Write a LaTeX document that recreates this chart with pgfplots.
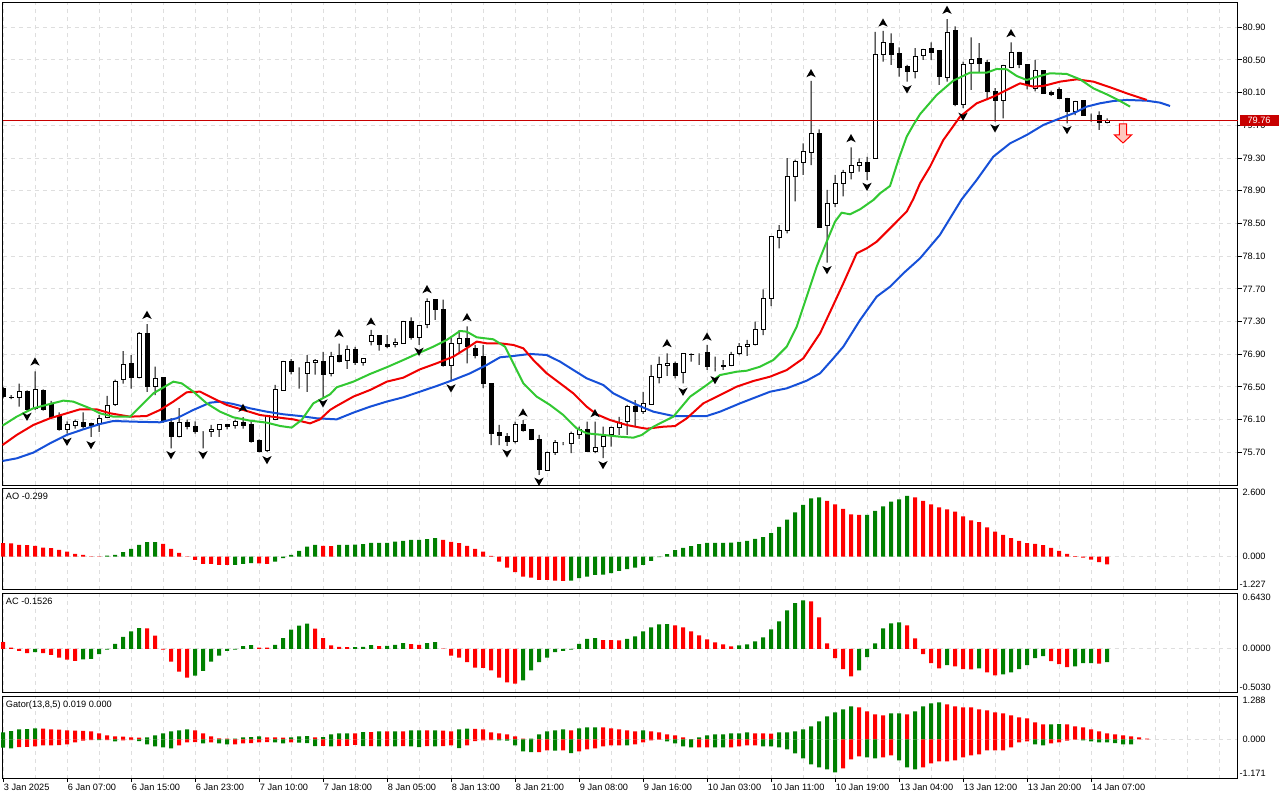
\documentclass[border=0pt]{standalone}
\usepackage{fontspec}
\setmainfont{Liberation Sans}
\usepackage{pgfplots}
\usepackage{pgfplotstable}
\pgfplotsset{compat=1.18}
\definecolor{mtgreen}{RGB}{0,128,0}
\definecolor{mtred}{RGB}{255,0,0}
\definecolor{jaw}{RGB}{22,80,216}
\definecolor{teeth}{RGB}{240,0,0}
\definecolor{lips}{RGB}{50,200,50}
\definecolor{gridc}{RGB}{222,222,222}
\definecolor{pline}{RGB}{200,0,0}
\definecolor{sellfill}{RGB}{255,200,190}
\newcommand{\lf}{\fontsize{6.9}{8}\selectfont}

\pgfdeclareplotmark{fup}{%
 \pgfpathmoveto{\pgfqpoint{0pt}{3.2pt}}%
 \pgfpathlineto{\pgfqpoint{3.5pt}{-3pt}}%
 \pgfpathlineto{\pgfqpoint{0pt}{-1.3pt}}%
 \pgfpathlineto{\pgfqpoint{-3.5pt}{-3pt}}%
 \pgfpathclose\pgfusepathqfill}
\pgfdeclareplotmark{fdown}{%
 \pgfpathmoveto{\pgfqpoint{0pt}{-3.2pt}}%
 \pgfpathlineto{\pgfqpoint{3.5pt}{3pt}}%
 \pgfpathlineto{\pgfqpoint{0pt}{1.3pt}}%
 \pgfpathlineto{\pgfqpoint{-3.5pt}{3pt}}%
 \pgfpathclose\pgfusepathqfill}
\pgfdeclareplotmark{sell}{%
 \pgfpathmoveto{\pgfqpoint{-2.75pt}{6.75pt}}%
 \pgfpathlineto{\pgfqpoint{2.75pt}{6.75pt}}%
 \pgfpathlineto{\pgfqpoint{2.75pt}{-1.5pt}}%
 \pgfpathlineto{\pgfqpoint{6.4pt}{-1.5pt}}%
 \pgfpathlineto{\pgfqpoint{0pt}{-7.5pt}}%
 \pgfpathlineto{\pgfqpoint{-6.4pt}{-1.5pt}}%
 \pgfpathlineto{\pgfqpoint{-2.75pt}{-1.5pt}}%
 \pgfpathclose\pgfusepathqfillstroke}

\pgfplotstableread{
i o h l c
0 76.48 76.50 76.36 76.38
1 76.37 76.40 76.35 76.375
2 76.37 76.54 76.26 76.44
3 76.45 76.46 76.20 76.22
4 76.24 76.69 76.22 76.475
5 76.46 76.47 76.21 76.22
6 76.30 76.33 76.12 76.13
7 76.14 76.19 75.965 75.975
8 75.975 76.08 75.93 76.035
9 76.03 76.10 75.99 76.08
10 76.07 76.19 75.99 76.015
11 76.05 76.065 75.89 76.03
12 76.05 76.16 75.95 76.12
13 76.13 76.39 76.12 76.27
14 76.29 76.59 76.27 76.57
15 76.59 76.94 76.54 76.78
16 76.79 76.89 76.48 76.61
17 76.61 77.17 76.605 77.15
18 77.15 77.27 76.44 76.50
19 76.50 76.75 76.40 76.60
20 76.61 76.615 76.06 76.08
21 76.065 76.12 75.75 75.89
22 75.89 76.24 75.885 76.06
23 76.06 76.10 75.98 76.015
24 76.02 76.08 75.93 75.95
25 75.955 75.96 75.75 75.955
26 75.96 76.035 75.89 75.98
27 75.98 76.045 75.89 76.04
28 76.045 76.05 75.98 76.02
29 76.03 76.10 75.99 76.075
30 76.065 76.13 75.99 76.03
31 76.035 76.08 75.82 75.83
32 75.85 75.86 75.70 75.71
33 75.72 76.16 75.705 76.155
34 76.10 76.525 76.095 76.475
35 76.46 76.82 76.455 76.815
36 76.815 76.84 76.655 76.69
37 76.66 76.74 76.48 76.66
38 76.67 76.89 76.44 76.80
39 76.80 76.84 76.65 76.82
40 76.815 76.93 76.36 76.65
41 76.67 76.93 76.63 76.87
42 76.88 77.03 76.80 76.81
43 76.82 77.01 76.72 76.96
44 76.96 76.99 76.77 76.80
45 76.80 76.85 76.76 76.85
46 77.055 77.20 77.01 77.135
47 77.125 77.135 76.945 77.02
48 77.025 77.135 76.975 76.995
49 77.015 77.095 76.985 77.05
50 77.035 77.31 77.03 77.30
51 77.30 77.35 77.08 77.11
52 77.11 77.255 77.015 77.25
53 77.26 77.585 77.22 77.545
54 77.565 77.575 77.32 77.45
55 77.45 77.57 76.75 76.76
56 76.76 77.115 76.585 77.035
57 77.035 77.195 76.93 77.095
58 77.095 77.24 76.79 77.00
59 76.97 77.015 76.85 76.89
60 76.87 77.015 76.485 76.54
61 76.54 76.545 75.79 75.925
62 75.94 76.035 75.79 75.905
63 75.90 75.935 75.78 75.83
64 75.83 76.075 75.81 76.035
65 76.035 76.095 75.955 75.965
66 75.975 75.98 75.85 75.86
67 75.86 75.915 75.425 75.485
68 75.48 75.71 75.475 75.70
69 75.70 75.85 75.67 75.825
70 75.81 75.825 75.79 75.81
71 75.81 75.955 75.69 75.935
72 75.915 76.015 75.865 75.975
73 75.98 76.075 75.71 75.715
74 75.71 76.075 75.69 75.76
75 75.77 76.015 75.63 75.90
76 75.915 76.015 75.77 76.01
77 76.005 76.135 75.915 76.065
78 76.075 76.28 75.915 76.265
79 76.265 76.34 76.02 76.20
80 76.20 76.44 76.17 76.30
81 76.29 76.77 76.28 76.625
82 76.615 76.87 76.545 76.77
83 76.76 76.91 76.635 76.79
84 76.79 76.81 76.605 76.645
85 76.675 76.91 76.545 76.905
86 76.895 76.91 76.81 76.90
87 76.895 76.91 76.77 76.895
88 76.925 77.015 76.71 76.755
89 76.74 76.87 76.69 76.74
90 76.755 76.83 76.71 76.76
91 76.76 76.93 76.755 76.90
92 76.905 77.035 76.89 76.995
93 76.995 77.075 76.88 77.025
94 77.015 77.30 77.01 77.205
95 77.205 77.695 77.135 77.585
96 77.585 78.345 77.49 78.34
97 78.33 78.48 78.195 78.41
98 78.42 79.30 78.38 79.08
99 79.08 79.28 78.77 79.255
100 79.245 79.48 79.095 79.38
101 79.37 80.245 79.215 79.605
102 79.595 79.65 78.45 78.455
103 78.47 78.91 78.02 78.745
104 78.745 79.095 78.70 78.99
105 78.99 79.155 78.83 79.12
106 79.12 79.43 79.04 79.205
107 79.215 79.295 79.135 79.25
108 79.25 79.315 79.03 79.135
109 79.295 80.845 79.29 80.57
110 80.57 80.855 80.48 80.715
111 80.705 80.825 80.44 80.57
112 80.575 80.655 80.295 80.41
113 80.42 80.44 80.235 80.355
114 80.355 80.645 80.275 80.54
115 80.555 80.635 80.50 80.63
116 80.645 80.715 80.50 80.59
117 80.61 80.615 80.195 80.295
118 80.29 81.00 80.235 80.84
119 80.855 80.91 79.935 79.95
120 79.96 80.48 79.91 80.445
121 80.46 80.775 80.135 80.50
122 80.52 80.705 80.355 80.46
123 80.47 80.50 80.01 80.115
124 80.12 80.155 79.745 80.01
125 80.01 80.44 79.785 80.435
126 80.405 80.715 80.40 80.595
127 80.595 80.60 80.40 80.445
128 80.44 80.445 80.14 80.195
129 80.155 80.50 80.115 80.37
130 80.37 80.375 80.09 80.095
131 80.105 80.125 80.06 80.08
132 80.14 80.165 80.02 80.03
133 80.03 80.035 79.725 79.87
134 79.87 80.00 79.825 79.995
135 80.00 80.01 79.815 79.825
136 79.835 79.845 79.745 79.835
137 79.825 79.87 79.645 79.735
138 79.735 79.785 79.725 79.76
}\candles

\pgfplotstableread{
x y
-0.06 76.027
1.71 76.137
3.79 76.239
5.88 76.292
7.54 76.333
8.79 76.321
10.88 76.239
12.13 76.178
13.79 76.137
15.88 76.137
17.13 76.259
18.79 76.422
21.29 76.565
22.33 76.545
23.79 76.443
25.46 76.300
27.13 76.198
28.79 76.129
30.88 76.088
32.96 76.064
34.63 76.023
36.08 76.003
37.33 76.096
38.79 76.300
40.88 76.410
41.71 76.496
43.79 76.565
45.88 76.659
47.96 76.741
50.04 76.830
51.71 76.904
53.79 76.993
55.46 77.075
57.13 77.185
57.96 77.177
59.21 77.108
61.29 77.083
62.75 76.993
63.79 76.790
65.04 76.545
66.71 76.382
68.38 76.280
70.04 76.157
71.71 75.994
72.96 75.933
75.04 75.913
77.13 75.892
78.79 75.880
79.83 75.912
81.29 76.014
83.79 76.137
85.88 76.381
87.96 76.524
89.63 76.646
91.71 76.687
92.96 76.699
94.63 76.748
96.29 76.830
97.96 76.993
99.21 77.238
100.46 77.605
101.71 77.972
102.96 78.277
104.0 78.522
104.83 78.632
105.88 78.612
107.13 78.673
108.79 78.787
109.63 78.869
110.88 78.959
111.92 79.277
112.96 79.562
113.79 79.705
114.63 79.837
116.71 80.072
118.79 80.247
120.88 80.345
122.96 80.345
124.21 80.390
125.46 80.386
126.71 80.304
127.96 80.255
129.63 80.304
130.88 80.337
132.96 80.329
134.63 80.263
136.29 80.153
137.96 80.080
139.63 79.998
140.88 79.929
}\lips

\pgfplotstableread{
x y
-0.06 75.790
1.71 75.913
3.79 76.035
5.88 76.117
7.96 76.178
9.63 76.227
11.71 76.227
13.38 76.178
15.88 76.137
17.96 76.145
19.63 76.219
21.29 76.321
22.96 76.435
24.63 76.443
26.29 76.361
27.96 76.280
30.04 76.219
32.13 76.157
34.21 76.129
36.29 76.104
38.38 76.055
39.63 76.104
40.88 76.219
41.71 76.268
43.79 76.382
45.88 76.463
47.96 76.565
50.04 76.614
52.13 76.716
54.21 76.790
56.29 76.871
57.96 76.973
59.21 77.055
60.46 77.034
62.13 77.034
63.79 77.014
65.04 76.973
66.29 76.830
67.96 76.667
69.63 76.545
71.29 76.422
72.96 76.259
74.21 76.166
75.88 76.096
77.96 76.035
79.63 76.003
80.46 75.990
82.54 76.014
84.0 76.022
85.46 76.116
87.54 76.300
90.04 76.422
91.71 76.504
93.79 76.573
95.88 76.626
97.96 76.707
100.04 76.850
102.13 77.156
103.79 77.503
105.04 77.768
106.71 78.135
107.96 78.196
109.21 78.277
110.88 78.441
112.96 78.645
113.79 78.800
114.63 78.991
115.88 79.195
117.54 79.521
119.63 79.807
121.71 79.970
123.79 80.051
125.46 80.133
127.13 80.214
128.79 80.174
130.04 80.182
132.13 80.235
134.21 80.263
136.29 80.235
138.38 80.166
140.46 80.092
142.96 80.011
}\teeth

\pgfplotstableread{
x y
-0.06 75.595
1.71 75.627
3.79 75.697
5.88 75.811
7.96 75.913
10.04 75.982
12.13 76.047
13.79 76.084
16.29 76.076
19.63 76.068
21.71 76.117
23.79 76.219
25.88 76.308
27.13 76.321
28.79 76.292
30.88 76.239
32.96 76.198
35.04 76.166
37.13 76.145
39.21 76.117
41.71 76.104
43.79 76.186
45.88 76.259
47.96 76.321
50.04 76.374
52.13 76.443
54.21 76.512
56.29 76.586
58.38 76.667
60.46 76.769
62.13 76.863
63.79 76.879
65.88 76.904
67.96 76.891
69.63 76.810
71.29 76.708
72.96 76.606
75.04 76.524
76.29 76.422
77.96 76.340
79.63 76.265
81.29 76.198
83.79 76.145
87.96 76.145
89.63 76.198
92.13 76.300
95.88 76.442
97.96 76.483
100.46 76.577
102.13 76.667
103.79 76.850
105.04 76.993
107.13 77.319
109.21 77.605
110.88 77.727
112.54 77.890
114.63 78.074
117.1 78.359
119.83 78.795
121.71 79.032
123.79 79.317
125.88 79.480
127.96 79.582
130.04 79.705
132.13 79.786
133.79 79.847
135.46 79.929
137.13 79.970
138.79 79.998
140.46 80.011
142.96 80.002
144.63 79.978
145.88 79.937
}\jawline

\pgfplotstableread{
x y
4 76.810
18 77.381
30 76.243
42 77.157
46 77.299
53 77.695
58 77.353
65 76.186
74 76.178
83 77.035
88 77.115
101 80.337
106 79.542
110 80.956
118 81.112
126 80.827
}\fracup

\pgfplotstableread{
x y
3 76.137
8 75.831
11 75.791
21 75.668
25 75.668
33 75.607
40 76.301
52 76.932
56 76.484
63 75.689
67 75.342
75 75.546
85 76.443
89 76.586
103 77.931
108 78.950
113 80.142
120 79.807
124 79.665
133 79.644
}\fracdown

\pgfplotsset{
  mtbase/.style={scale only axis, width=926.25pt, xmin=-0.0625, xmax=154.3125,
    anchor=north west,
    axis line style={line width=0.75pt, black},
    xtick={0,8,...,136},
    minor xtick={4,12,20,28,36,44,52,60,68,76,84,92,100,108,116,124,132,140,144,148,152},
    xmajorgrids, xminorgrids,
    major grid style={draw=gridc, line width=0.75pt, dash pattern=on 3pt off 3pt},
    minor grid style={draw=gridc, line width=0.75pt, dash pattern=on 3pt off 3pt},
    xticklabels={}, xtick style={draw=none}, minor tick length=0pt,
    tick align=outside, major tick length=3pt,
    ticklabel style={font=\lf}},
  ghost/.style={scale only axis, width=926.25pt, xmin=-0.0625, xmax=154.3125,
    anchor=north west, hide axis},
  bar/.style={bar width=3pt, bar shift=0pt, draw=none, fill=#1}
}

\begin{document}
\begin{tikzpicture}
\useasboundingbox (0,0) rectangle (960pt,600pt);

% ---------- main price panel ----------
\begin{axis}[mtbase, at={(1.875pt,598.125pt)}, height=362.25pt,
  ymin=75.295, ymax=81.203, ymajorgrids,
  ytick={75.7,76.1,76.5,76.9,77.3,77.7,78.1,78.5,78.9,79.3,79.7,80.1,80.5,80.9},
  yticklabels={75.70,76.10,76.50,76.90,77.30,77.70,78.10,78.50,78.90,79.30,79.70,80.10,80.50,80.90},
  ytick pos=right, yticklabel pos=right,
  ytick style={draw=black, line width=0.75pt},
  yticklabel style={font=\lf, anchor=west, inner xsep=0.6pt, inner ysep=0pt}]
\addplot[draw=none, forget plot] coordinates {(0,76)};
\end{axis}

\begin{axis}[ghost, at={(1.875pt,598.125pt)}, height=362.25pt,
  ymin=75.295, ymax=81.203, ybar stacked]
\addplot[draw=none, fill=none, bar width=3pt] table[x=i, y=l] {\candles};
\addplot[draw=none, fill=black, bar width=0.75pt] table[x=i, y expr={min(\thisrow{o},\thisrow{c})-\thisrow{l}}] {\candles};
\addplot[draw=black, fill=white, line width=0.75pt, bar width=3pt] table[x=i, y expr={max(\thisrow{c}-\thisrow{o},0)}] {\candles};
\addplot[draw=black, fill=black, line width=0.75pt, bar width=3pt] table[x=i, y expr={max(\thisrow{o}-\thisrow{c},0)}] {\candles};
\addplot[draw=none, fill=black, bar width=0.75pt] table[x=i, y expr={\thisrow{h}-max(\thisrow{o},\thisrow{c})}] {\candles};
\end{axis}

\begin{axis}[ghost, at={(1.875pt,598.125pt)}, height=362.25pt,
  ymin=75.295, ymax=81.203, clip=false]
\addplot[pline, line width=0.75pt] coordinates {(-0.0625,79.76) (154.3125,79.76)};
\addplot[jaw, line width=1.5pt, line join=round] table[x=x,y=y] {\jawline};
\addplot[teeth, line width=1.5pt, line join=round] table[x=x,y=y] {\teeth};
\addplot[lips, line width=1.5pt, line join=round] table[x=x,y=y] {\lips};
\addplot[only marks, mark=fup, mark options={fill=black, draw=none}] table[x=x,y=y] {\fracup};
\addplot[only marks, mark=fdown, mark options={fill=black, draw=none}] table[x=x,y=y] {\fracdown};
\addplot[only marks, mark=sell, mark options={fill=sellfill, draw=red, line width=0.75pt}] coordinates {(140,79.607)};
\node[fill=pline, text=white, font=\lf, anchor=west, minimum width=29.25pt, minimum height=8.8pt, inner sep=0pt, xshift=1.35pt] at (axis cs:154.3125,79.76) {79.76};
\end{axis}

% ---------- AO ----------
\begin{axis}[mtbase, at={(1.875pt,234pt)}, height=76.125pt,
  ymin=-1.25, ymax=2.6, ytick={0}, yticklabels={}, ymajorgrids,
  ytick style={draw=none}, ybar, clip=false]
\addplot[bar=mtred] coordinates {(0,0.505)(1,0.50)(2,0.44)(3,0.43)(4,0.404)(5,0.341)(6,0.316)(7,0.253)(8,0.189)(9,0.101)(10,0.063)(11,0.005)(12,-0.01)
(20,0.48)(21,0.29)(22,0.139)(23,-0.013)(24,-0.126)(25,-0.278)(26,-0.28)(27,-0.316)(28,-0.318)
(32,-0.255)(33,-0.278)(40,0.404)(41,0.40)
(55,0.631)(56,0.556)(57,0.505)(58,0.404)(59,0.29)(60,0.189)(61,0.025)(62,-0.189)(63,-0.417)(64,-0.593)(65,-0.758)(66,-0.795)(67,-0.884)(68,-0.886)(69,-0.909)(70,-0.922)
(103,2.109)(104,1.982)(105,1.806)(106,1.604)(107,1.578)
(114,2.247)(115,2.109)(116,1.982)(117,1.869)(118,1.793)(119,1.705)(120,1.528)(121,1.376)(122,1.301)(123,1.111)(124,0.947)(125,0.821)(126,0.694)(127,0.593)(128,0.505)(129,0.48)(130,0.429)(131,0.328)(132,0.215)(133,0.101)(134,0.013)(135,-0.038)(136,-0.114)(137,-0.215)(138,-0.299)};
\addplot[bar=mtgreen] coordinates {(13,0.038)(14,0.063)(15,0.164)(16,0.29)(17,0.442)(18,0.543)(19,0.545)
(29,-0.316)(30,-0.278)(31,-0.253)
(34,-0.189)(35,-0.063)(36,0.063)(37,0.215)(38,0.379)(39,0.442)
(42,0.442)(43,0.445)(44,0.448)(45,0.467)(46,0.518)(47,0.52)(48,0.522)(49,0.568)(50,0.593)(51,0.631)(52,0.635)(53,0.657)(54,0.694)
(71,-0.909)(72,-0.821)(73,-0.758)(74,-0.694)(75,-0.69)(76,-0.631)(77,-0.543)(78,-0.48)(79,-0.417)(80,-0.316)(81,-0.164)(82,-0.025)(83,0.088)(84,0.24)(85,0.328)(86,0.391)(87,0.467)(88,0.518)(89,0.52)(90,0.522)(91,0.524)(92,0.556)(93,0.593)(94,0.669)(95,0.732)(96,0.884)(97,1.124)(98,1.402)(99,1.679)(100,1.957)(101,2.21)(102,2.247)
(108,1.58)(109,1.73)(110,1.907)(111,2.083)(112,2.172)(113,2.298)};
\node[anchor=west, font=\lf, inner sep=0pt, xshift=2.4pt, yshift=-6.5pt] at (rel axis cs:0,1) {AO -0.299};
\node[anchor=west, font=\lf, inner sep=0pt, xshift=3.6pt, yshift=-3pt] at (axis cs:154.3125,2.6) {2.600};
\node[anchor=west, font=\lf, inner sep=0pt, xshift=3.6pt] at (axis cs:154.3125,0) {0.000};
\node[anchor=west, font=\lf, inner sep=0pt, xshift=1.35pt, yshift=3.9pt] at (axis cs:154.3125,-1.25) {-1.227};
\end{axis}

% ---------- AC ----------
\begin{axis}[mtbase, at={(1.875pt,155.25pt)}, height=74.625pt,
  ymin=-0.503, ymax=0.643, ytick={0}, yticklabels={}, ymajorgrids,
  ytick style={draw=none}, ybar, clip=false]
\addplot[bar=mtred] coordinates {(0,0.077)(1,0.015)(2,-0.023)(3,-0.05)(5,-0.05)(6,-0.069)(7,-0.1)(8,-0.124)(9,-0.139)
(18,0.237)(19,0.151)(20,-0.008)(21,-0.147)(22,-0.263)(23,-0.332)
(32,0.015)(33,0.013)(39,0.232)(40,0.124)(41,0.039)(42,0.023)(43,0.019)
(47,0.031)(51,0.054)(52,0.046)
(55,0.002)(56,-0.077)(57,-0.1)(58,-0.154)(59,-0.216)(60,-0.218)(61,-0.247)(62,-0.332)(63,-0.386)(64,-0.402)
(75,0.1)(76,0.099)(77,0.098)
(84,0.27)(85,0.247)(86,0.201)(87,0.154)(88,0.108)(89,0.073)(90,0.05)(91,0.027)
(101,0.548)(102,0.363)(103,0.062)(104,-0.108)(105,-0.235)(106,-0.316)
(113,0.27)(114,0.12)(115,-0.062)(116,-0.166)(117,-0.224)
(119,-0.201)(120,-0.235)(121,-0.237)(123,-0.27)(124,-0.305)
(131,-0.143)(132,-0.177)(133,-0.212)(137,-0.17)};
\addplot[bar=mtgreen] coordinates {(4,-0.039)(10,-0.12)(11,-0.116)(12,-0.062)(13,-0.008)(14,0.058)(15,0.139)(16,0.201)(17,0.239)
(24,-0.309)(25,-0.255)(26,-0.147)(27,-0.077)(28,-0.023)(29,-0.008)(30,0.031)(31,0.042)
(34,0.046)(35,0.124)(36,0.22)(37,0.266)(38,0.29)
(44,0.021)(45,0.023)(46,0.042)(48,0.035)(49,0.046)(50,0.066)(53,0.066)(54,0.077)
(65,-0.363)(66,-0.247)(67,-0.154)(68,-0.1)(69,-0.039)(70,-0.023)(71,-0.008)(72,0.058)(73,0.116)(74,0.124)
(78,0.116)(79,0.143)(80,0.201)(81,0.247)(82,0.282)(83,0.284)
(92,0.039)(93,0.05)(94,0.085)(95,0.131)(96,0.224)(97,0.316)(98,0.444)(99,0.525)(100,0.559)
(107,-0.247)(108,-0.096)(109,0.062)(110,0.235)(111,0.293)(112,0.305)
(118,-0.189)(122,-0.224)(125,-0.293)(126,-0.27)(127,-0.235)(128,-0.189)(129,-0.108)(130,-0.085)
(134,-0.201)(135,-0.166)(136,-0.164)(138,-0.153)};
\node[anchor=west, font=\lf, inner sep=0pt, xshift=2.4pt, yshift=-6.5pt] at (rel axis cs:0,1) {AC -0.1526};
\node[anchor=west, font=\lf, inner sep=0pt, xshift=3.6pt, yshift=-3.5pt] at (axis cs:154.3125,0.643) {0.6430};
\node[anchor=west, font=\lf, inner sep=0pt, xshift=3.6pt] at (axis cs:154.3125,0) {0.0000};
\node[anchor=west, font=\lf, inner sep=0pt, xshift=1.35pt, yshift=3.9pt] at (axis cs:154.3125,-0.503) {-0.5030};
\end{axis}

% ---------- Gator ----------
\begin{axis}[mtbase, at={(1.875pt,78pt)}, height=62.1pt,
  ymin=-1.171, ymax=1.288, ytick={0}, yticklabels={}, ymajorgrids,
  ytick style={draw=none}, ybar, clip=false,
  xtick pos=bottom, xtick style={draw=black, line width=0.75pt}, major tick length=2.5pt,
  xticklabels={3 Jan 2025,6 Jan 07:00,6 Jan 15:00,6 Jan 23:00,7 Jan 10:00,7 Jan 18:00,8 Jan 05:00,8 Jan 13:00,8 Jan 21:00,9 Jan 08:00,9 Jan 16:00,10 Jan 03:00,10 Jan 11:00,10 Jan 19:00,13 Jan 04:00,13 Jan 12:00,13 Jan 20:00,14 Jan 07:00},
  xticklabel style={font=\lf, anchor=north west, inner sep=0pt, xshift=0.5pt, yshift=-1.2pt}]
\addplot[bar=mtgreen] coordinates {(0,.208)(1,.248)(2,.298)(3,.305)(4,.327)(18,.06)(19,.119)(20,.179)(21,.238)(22,.268)(23,.298)(29,.025)(30,.06)(31,.065)(32,.089)(36,.06)(37,.089)(38,.10)(40,.065)(41,.149)(42,.178)(43,.18)(45,.218)(47,.238)(49,.24)(51,.268)(52,.27)(54,.268)(57,.297)(58,.317)(66,.022)(67,.149)(68,.238)(69,.268)(70,.297)(72,.327)(73,.357)(74,.358)(80,.268)(87,.059)(88,.119)(89,.149)(90,.15)(91,.178)(92,.18)(93,.208)(97,.208)(98,.21)(99,.238)(100,.297)(101,.387)(102,.535)(103,.684)(104,.803)(105,.892)(106,.981)(111,.773)(112,.775)(114,.832)(115,.981)(116,1.07)(117,1.1)(131,.448)(132,.45)};
\addplot[bar=mtred] coordinates {(5,.32)(6,.298)(7,.29)(8,.268)(9,.262)(10,.255)(11,.238)(12,.179)(13,.119)(14,.089)(15,.085)(16,.06)(17,.05)(24,.268)(25,.179)(26,.089)(27,.03)(28,.02)(33,.06)(34,.058)(35,.055)(39,.06)(44,.175)(46,.215)(48,.235)(50,.236)(53,.266)(55,.262)(56,.238)(59,.315)(60,.297)(61,.208)(62,.178)(63,.149)(64,.089)(65,.02)(71,.268)(75,.357)(76,.327)(77,.297)(78,.268)(79,.238)(81,.238)(82,.208)(83,.149)(84,.119)(85,.059)(86,.005)(94,.178)(95,.176)(96,.174)(107,.951)(108,.832)(109,.743)(110,.714)(113,.743)(118,1.041)(119,.981)(120,.951)(121,.948)(122,.892)(123,.862)(124,.803)(125,.773)(126,.714)(127,.654)(128,.624)(129,.505)(130,.446)(133,.446)(134,.387)(135,.357)(136,.297)(137,.238)(138,.178)(139,.149)(140,.119)(141,.089)(142,.059)(143,.019)};
\addplot[bar=mtgreen] coordinates {(0,-.248)(1,-.268)(12,-.025)(14,-.06)(17,-.05)(18,-.149)(19,-.208)(20,-.238)(21,-.268)(25,-.119)(27,-.119)(28,-.149)(34,-.089)(35,-.119)(37,-.10)(38,-.11)(39,-.20)(41,-.205)(45,-.20)(47,-.205)(49,-.205)(51,-.205)(52,-.228)(54,-.205)(57,-.26)(62,-.03)(63,-.04)(64,-.18)(65,-.36)(66,-.38)(69,-.335)(71,-.41)(78,-.18)(83,-.059)(84,-.119)(85,-.208)(86,-.238)(89,-.238)(90,-.24)(95,-.208)(96,-.21)(97,-.238)(98,-.297)(99,-.416)(100,-.565)(101,-.743)(102,-.833)(103,-.892)(104,-.981)(108,-.535)(109,-.565)(112,-.624)(113,-.833)(114,-.892)(129,-.149)(130,-.178)(135,-.03)(136,-.059)(137,-.089)(138,-.091)(139,-.109)(140,-.149)(141,-.15)};
\addplot[bar=mtred] coordinates {(2,-.228)(3,-.226)(4,-.208)(5,-.179)(6,-.175)(7,-.169)(8,-.149)(9,-.089)(10,-.04)(11,-.02)(13,-.02)(15,-.03)(16,-.02)(22,-.179)(23,-.089)(24,-.085)(26,-.089)(29,-.145)(30,-.119)(31,-.115)(32,-.089)(33,-.085)(36,-.089)(40,-.195)(42,-.20)(43,-.19)(44,-.16)(46,-.198)(48,-.20)(50,-.20)(53,-.20)(55,-.20)(56,-.18)(58,-.18)(59,-.05)(60,-.03)(61,-.02)(67,-.378)(68,-.33)(70,-.33)(72,-.36)(73,-.297)(74,-.268)(75,-.208)(76,-.178)(77,-.175)(79,-.149)(80,-.089)(81,-.03)(82,-.01)(87,-.236)(88,-.234)(91,-.238)(92,-.208)(93,-.178)(94,-.176)(105,-.862)(106,-.595)(107,-.505)(110,-.535)(111,-.476)(115,-.833)(116,-.714)(117,-.654)(118,-.65)(119,-.624)(120,-.535)(121,-.476)(122,-.446)(123,-.327)(124,-.326)(125,-.325)(126,-.238)(127,-.089)(128,-.059)(131,-.119)(132,-.089)(133,-.04)(134,-.01)};
\node[anchor=west, font=\lf, inner sep=0pt, xshift=2.4pt, yshift=-6.8pt] at (rel axis cs:0,1) {Gator(13,8,5) 0.019 0.000};
\node[anchor=west, font=\lf, inner sep=0pt, xshift=3.6pt, yshift=-3pt] at (axis cs:154.3125,1.288) {1.288};
\node[anchor=west, font=\lf, inner sep=0pt, xshift=3.6pt] at (axis cs:154.3125,0) {0.000};
\node[anchor=west, font=\lf, inner sep=0pt, xshift=1.35pt, yshift=4.1pt] at (axis cs:154.3125,-1.171) {-1.171};
\end{axis}
\end{tikzpicture}
\end{document}
